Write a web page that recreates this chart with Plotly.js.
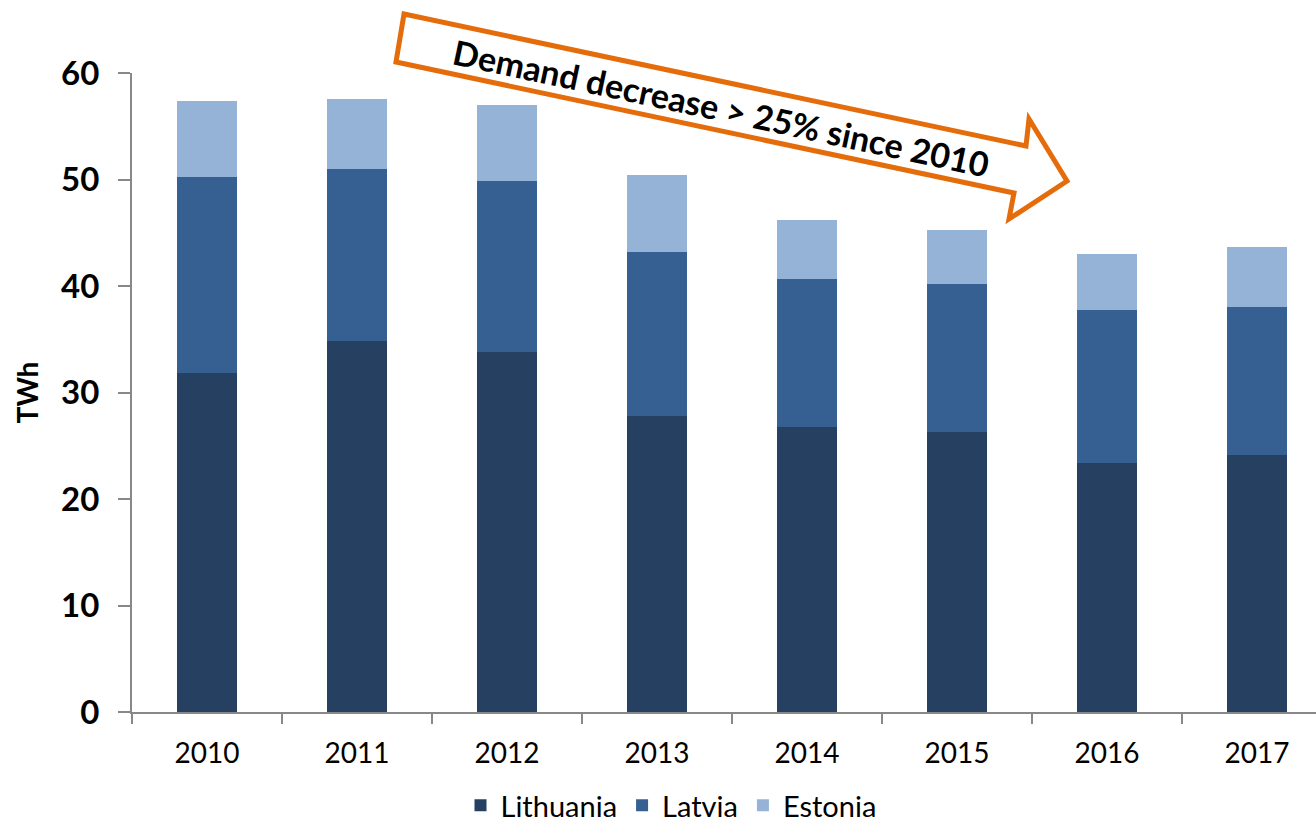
<!DOCTYPE html>
<html>
<head>
<meta charset="utf-8">
<script src="https://cdn.plot.ly/plotly-3.0.1.min.js"></script>
<style>html,body{margin:0;padding:0;background:#fff;}#chart{width:1316px;height:826px;}</style>
</head>
<body>
<div id="chart"></div>
<script>
const years = ["2010","2011","2012","2013","2014","2015","2016","2017"];
const lithuania = [31.8, 34.8, 33.8, 27.8, 26.8, 26.3, 23.4, 24.1];
const latvia    = [18.4, 16.2, 16.1, 15.4, 13.9, 13.9, 14.3, 13.9];
const estonia   = [7.2, 6.6, 7.1, 7.2, 5.5, 5.1, 5.3, 5.7];
const seriesNames = ["Lithuania","Latvia","Estonia"];
const arrowLabel = "Demand decrease > 25% since 2010";
const yAxisTitle = "TWh";

const FONT = "Lato, 'Open Sans', sans-serif";
const L = 132, R = 1316, T = 73, B = 712;
const W = R - L, H = B - T;
const px = x => (x - L) / W;
const py = y => (B - y) / H;

// arrow outline in pixel space -> paper
const arrowPts = [[404,14],[1026,146],[1029,119],[1067,181],[1009,219],[1014,193],[396,62]];
const arrowPath = "M " + arrowPts.map(p => px(p[0]).toFixed(5) + "," + py(p[1]).toFixed(5)).join(" L ") + " Z";

const colors = ["#264061", "#366092", "#95B3D7"];
const vals = [lithuania, latvia, estonia];
const traces = seriesNames.map((n, i) => ({
  type: "bar", name: n, x: years, y: vals[i],
  marker: {color: colors[i]},
  hoverinfo: "skip"
}));

const layout = {
  width: 1316, height: 826,
  margin: {l: L, r: 1316 - R, t: T, b: 826 - B, autoexpand: false},
  paper_bgcolor: "#fff", plot_bgcolor: "#fff",
  barmode: "stack", bargap: 0.6,
  font: {family: FONT, color: "#000"},
  xaxis: {
    type: "category", range: [-0.5, -0.5 + W / 150], automargin: false,
    showline: true, linecolor: "#888", linewidth: 2,
    ticks: "outside", tickson: "boundaries", ticklen: 10, tickwidth: 2, tickcolor: "#888",
    tickfont: {family: FONT, size: 28, color: "#000"},
    ticklabelstandoff: 15,
    showgrid: false, zeroline: false
  },
  yaxis: {
    range: [0, 60], dtick: 10, tick0: 0, automargin: false,
    showline: true, linecolor: "#888", linewidth: 2,
    ticks: "outside", ticklen: 12, tickwidth: 2, tickcolor: "#888",
    tickfont: {family: FONT, size: 33, color: "#000", weight: "bold"},
    ticklabelstandoff: 12,
    showgrid: false, zeroline: false,
    title: {text: "<b>" + yAxisTitle + "</b>", font: {family: FONT, size: 28, color: "#000"}, standoff: 14}
  },
  showlegend: true,
  legend: {
    orientation: "h", x: px(671), xanchor: "center", y: py(831), yanchor: "bottom",
    font: {family: FONT, size: 29, color: "#000"},
    traceorder: "normal"
  },
  shapes: [{
    type: "path", xref: "paper", yref: "paper", path: arrowPath,
    line: {color: "#E46C0A", width: 5}, fillcolor: "#fff", layer: "above"
  }],
  annotations: [{
    xref: "paper", yref: "paper", x: px(721), y: py(107),
    xanchor: "center", yanchor: "middle", showarrow: false,
    text: "<b>" + arrowLabel + "</b>", textangle: 12,
    font: {family: FONT, size: 34, color: "#000"}
  }]
};

Plotly.newPlot("chart", traces, layout, {staticPlot: true, displayModeBar: false});
</script>
</body>
</html>
